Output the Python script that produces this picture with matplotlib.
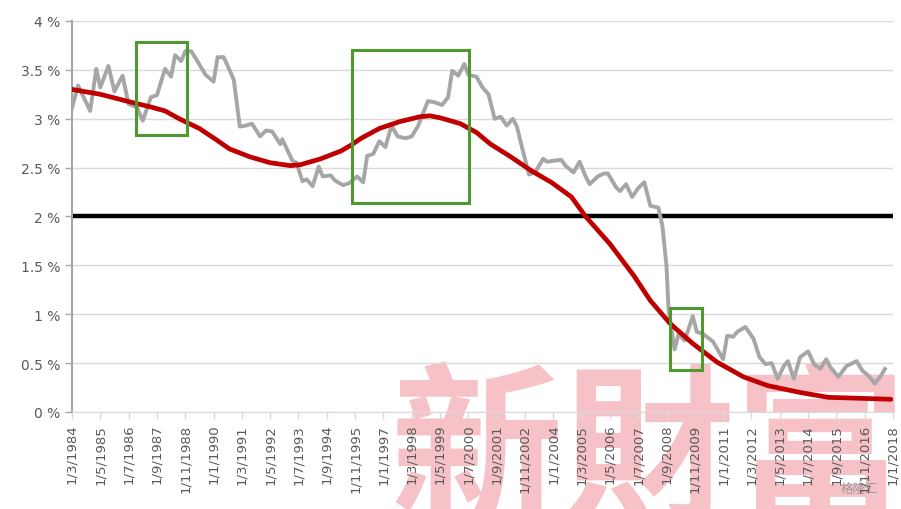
import matplotlib
matplotlib.use("Agg")
import matplotlib.pyplot as plt
from matplotlib.patches import Rectangle

# months counted from Mar 1984
gray_month = [0, 3, 9, 12, 14, 18, 21, 25, 28, 32, 35, 39, 42, 46, 49, 51, 54, 56, 59, 62,
              66, 70, 72, 75, 77, 80, 83, 86, 89, 93, 96, 99, 103, 104, 109, 111, 114, 116, 119, 122,
              124, 128, 130, 134, 137, 141, 144, 146, 149, 152, 155, 158, 161, 165, 168, 171, 176, 179, 183, 186,
              188, 191, 194, 196, 200, 203, 206, 209, 212, 215, 218, 220, 223, 226, 229, 233, 235, 238, 242, 244,
              248, 251, 254, 256, 260, 263, 265, 269, 271, 274, 277, 280, 283, 286, 290, 292, 294, 295, 298, 300,
              303, 307, 309, 312, 317, 322, 324, 327, 329, 333, 337, 340, 343, 346, 349, 352, 354, 357, 360, 364,
              367, 370, 373, 375, 379, 383, 388, 391, 394, 397, 400, 402]
gray_val = [3.11, 3.34, 3.08, 3.51, 3.32, 3.54, 3.28, 3.44, 3.15, 3.12, 2.98, 3.22, 3.24, 3.51, 3.43, 3.65, 3.59, 3.69, 3.69, 3.59,
            3.45, 3.38, 3.63, 3.63, 3.54, 3.40, 2.92, 2.93, 2.95, 2.82, 2.88, 2.87, 2.74, 2.79, 2.57, 2.55, 2.36, 2.38, 2.31, 2.51,
            2.41, 2.42, 2.37, 2.32, 2.34, 2.41, 2.35, 2.62, 2.64, 2.77, 2.71, 2.93, 2.82, 2.80, 2.82, 2.92, 3.18, 3.17, 3.14, 3.22,
            3.49, 3.44, 3.56, 3.45, 3.43, 3.32, 3.25, 3.00, 3.02, 2.93, 3.00, 2.92, 2.67, 2.43, 2.45, 2.59, 2.56, 2.57, 2.58, 2.52,
            2.45, 2.56, 2.41, 2.33, 2.41, 2.44, 2.44, 2.30, 2.26, 2.33, 2.20, 2.29, 2.35, 2.11, 2.09, 1.90, 1.49, 1.05, 0.64, 0.80,
            0.73, 0.98, 0.82, 0.80, 0.72, 0.54, 0.78, 0.77, 0.82, 0.87, 0.75, 0.56, 0.49, 0.50, 0.34, 0.47, 0.52, 0.34, 0.56, 0.62,
            0.49, 0.44, 0.54, 0.46, 0.36, 0.47, 0.52, 0.42, 0.37, 0.29, 0.37, 0.44]

red_month = [0, 14, 29, 39, 46, 53, 63, 71, 78, 88, 98, 108, 113, 123, 133, 138, 143, 152, 162, 172,
             177, 182, 192, 200, 207, 217, 227, 237, 247, 254, 266, 278, 286, 296, 307, 319, 332, 344, 360, 374,
             390, 405]
red_val = [3.30, 3.25, 3.17, 3.12, 3.08, 3.00, 2.90, 2.79, 2.69, 2.61, 2.55, 2.52, 2.53, 2.59, 2.67, 2.73, 2.80, 2.90, 2.97, 3.02,
           3.03, 3.01, 2.95, 2.86, 2.74, 2.61, 2.47, 2.35, 2.20, 2.00, 1.72, 1.39, 1.14, 0.90, 0.70, 0.51, 0.36, 0.27, 0.20, 0.15,
           0.14, 0.13]

target = 2.0

tick_labels = ["1/3/1984", "1/5/1985", "1/7/1986", "1/9/1987", "1/11/1988", "1/1/1990", "1/3/1991", "1/5/1992",
               "1/7/1993", "1/9/1994", "1/11/1995", "1/1/1997", "1/3/1998", "1/5/1999", "1/7/2000", "1/9/2001",
               "1/11/2002", "1/1/2004", "1/3/2005", "1/5/2006", "1/7/2007", "1/9/2008", "1/11/2009", "1/1/2011",
               "1/3/2012", "1/5/2013", "1/7/2014", "1/9/2015", "1/11/2016", "1/1/2018"]
tick_step = 14

# highlight boxes: (month start, month end, low, high)
boxes = [(31.7, 56.9, 2.83, 3.78), (138.6, 196.5, 2.14, 3.70), (295.5, 311.4, 0.43, 1.06)]

fig = plt.figure(figsize=(9.01, 5.10), dpi=100)
ax = fig.add_axes([0.0799, 0.1902, 0.9112, 0.7667])

# watermark, drawn behind the axes
fig.text(0.72, -0.07, "新財富", fontsize=124, color="#f4b3b9", alpha=0.8,
         family=["Noto Sans CJK TC", "DejaVu Sans"], weight="bold",
         ha="center", va="bottom", zorder=-5)
fig.text(0.975, 0.04, "格隆汇", fontsize=9, color="#9a9a9a",
         family=["Noto Sans CJK SC", "DejaVu Sans"], ha="right", va="center", zorder=-4)

ax.set_facecolor("none")
ax.plot(gray_month, gray_val, color="#a6a6a6", lw=2.8, solid_joinstyle="round", zorder=3)
ax.plot(red_month, red_val, color="#c00000", lw=3.4, solid_capstyle="round", zorder=4)
ax.axhline(target, color="black", lw=3.2, zorder=2)

for x0, x1, y0, y1 in boxes:
    ax.add_patch(Rectangle((x0, y0), x1 - x0, y1 - y0, fill=False,
                           edgecolor="#4e9a2f", lw=2.2, zorder=5))

ax.set_xlim(0, (len(tick_labels) - 1) * tick_step)
ax.set_ylim(0, 4)
ax.set_yticks([i * 0.5 for i in range(9)])
ax.set_yticklabels(["0 %", "0.5 %", "1 %", "1.5 %", "2 %", "2.5 %", "3 %", "3.5 %", "4 %"])
ax.set_xticks([i * tick_step for i in range(len(tick_labels))])
ax.set_xticklabels(tick_labels, rotation=90)

ax.grid(axis="y", color="#d9d9d9", lw=1)
ax.set_axisbelow(True)
for s in ["top", "right"]:
    ax.spines[s].set_visible(False)
ax.spines["left"].set_color("#a6a6a6")
ax.spines["left"].set_linewidth(1.5)
ax.spines["bottom"].set_color("#d9d9d9")
ax.tick_params(axis="y", colors="#a6a6a6", labelcolor="#595959", labelsize=10, length=5, width=1)
ax.tick_params(axis="x", colors="#d9d9d9", labelcolor="#595959", labelsize=9.5, length=5, width=1)

fig.savefig("out.png", dpi=100)
